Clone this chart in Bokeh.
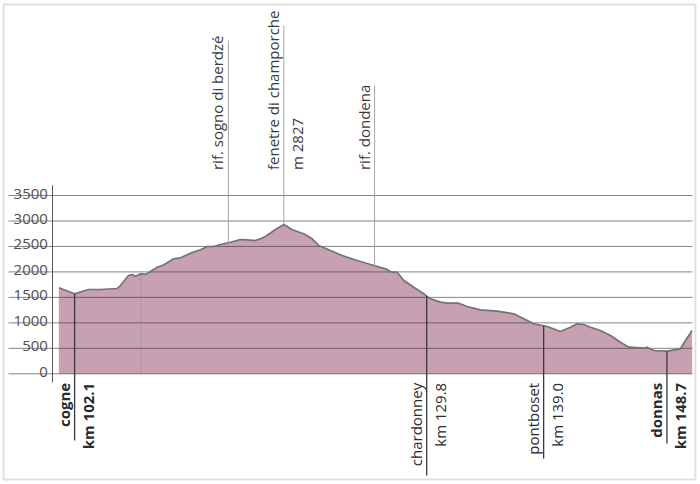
import numpy as np
from bokeh.plotting import figure
from bokeh.models import ColumnDataSource
from bokeh.core.properties import value
from bokeh.embed import file_html
from bokeh.resources import INLINE

# ---- data ----
profile_km = [100.86, 102.1, 103.19, 104.14, 105.45, 105.71, 106.34, 106.63, 106.89, 107.28,
              107.68, 108.60, 109.12, 109.90, 110.43, 111.22, 112.00, 112.53, 113.05, 113.58,
              114.36, 115.15, 115.68, 116.33, 116.72, 117.12, 117.90, 118.56, 119.22, 120.13,
              120.79, 121.31, 122.23, 123.15, 124.33, 125.38, 126.56, 127.08, 127.48, 128.00,
              128.78, 129.57, 130.10, 130.88, 131.41, 132.32, 132.98, 134.03, 135.34, 136.65,
              137.44, 138.22, 139.28, 140.32, 141.11, 141.64, 142.16, 142.68, 143.47, 144.26,
              145.04, 145.70, 146.88, 147.14, 147.66, 148.72, 149.76, 150.16, 150.68]
profile_elev = [1688, 1570, 1655, 1655, 1675, 1733, 1930, 1950, 1910, 1963,
                1950, 2093, 2140, 2257, 2277, 2368, 2434, 2499, 2499, 2538,
                2583, 2636, 2630, 2616, 2650, 2696, 2833, 2931, 2827, 2748,
                2650, 2519, 2420, 2322, 2224, 2146, 2061, 1994, 1994, 1831,
                1700, 1570, 1472, 1406, 1386, 1386, 1321, 1256, 1229, 1178,
                1080, 981, 929, 830, 915, 981, 968, 915, 850, 752,
                620, 522, 503, 522, 457, 444, 491, 654, 850]

tick_values = [0, 500, 1000, 1500, 2000, 2500, 3000, 3500]
tick_labels = ["0", "500", "1000", "1500", "2000", "2500", "3000", "3500"]

town_names = ["cogne", "chardonney", "pontboset", "donnas"]
town_km = [102.1, 129.8, 139.0, 148.7]
town_km_labels = ["km 102.1", "km 129.8", "km 139.0", "km 148.7"]
town_styles = ["bold", "normal", "normal", "bold"]

pass_names = ["rif. sogno di berdzé", "fenetre di champorche", "rif. dondena"]
pass_km = [114.2, 118.56, 125.7]
pass_sub = ["", "m 2827", ""]

faint_km = [107.3]

# ---- styling / layout constants ----
X_RANGE = (96.27, 151.34)
Y_RANGE = (-2173, 7328)
GRID_X = (96.90, 150.71)
FRAME_X = (96.51, 150.94)
FRAME_Y = (-2075, 7249)
AXIS_KM = 100.36
LABEL_KM = 100.0
PASS_LINE_TOP = [6543, 6838, 5661]
TOWN_LINE_BOTTOM = [-1308, -1995, -1663, -1369]
PASS_LABEL_Y = 4000
FONT = "Open Sans"
FILL = "#c7a1b3"

p = figure(width=700, height=484, x_range=X_RANGE, y_range=Y_RANGE,
           output_backend="svg", toolbar_location=None,
           x_axis_location=None, y_axis_location=None,
           min_border=0, min_border_left=0, min_border_right=0,
           min_border_top=0, min_border_bottom=0)
p.outline_line_color = None
p.grid.visible = False
p.background_fill_color = "white"
p.border_fill_color = "white"

# faint page frame
p.quad(left=[FRAME_X[0]], right=[FRAME_X[1]], bottom=[FRAME_Y[0]], top=[FRAME_Y[1]],
       fill_color=None, line_color="#e0e0e0", line_width=2)

# area
p.varea(x=profile_km, y1=0, y2=profile_elev, fill_color=FILL, fill_alpha=1.0)

# faint vertical line inside the area
faint_top = list(np.interp(faint_km, profile_km, profile_elev))
p.segment(x0=faint_km, y0=[0] * len(faint_km), x1=faint_km, y1=faint_top,
          line_color="#a98596", line_alpha=0.5, line_width=1)

# horizontal grid lines over the area
n = len(tick_values)
p.segment(x0=[GRID_X[0]] * n, y0=tick_values, x1=[GRID_X[1]] * n, y1=tick_values,
          line_color="#333333", line_alpha=0.6, line_width=1)

# profile outline
p.line(x=profile_km, y=profile_elev, line_color="#737373", line_width=1.7)

# vertical axis line
p.segment(x0=[AXIS_KM], y0=[-170], x1=[AXIS_KM], y1=[3700],
          line_color="#555555", line_width=1)

# tick labels
p.text(x=[LABEL_KM] * n, y=tick_values, text=tick_labels,
       text_align="right", text_baseline="alphabetic", y_offset=-2,
       text_font=value(FONT), text_font_size="15px", text_color="#505050")

# pass markers (top)
pass_base = list(np.interp(pass_km, profile_km, profile_elev))
p.segment(x0=pass_km, y0=pass_base, x1=pass_km, y1=PASS_LINE_TOP,
          line_color="#a8a8a8", line_width=1)
p.text(x=pass_km, y=[PASS_LABEL_Y] * len(pass_km), text=pass_names, angle=np.pi / 2,
       text_align="left", text_baseline="bottom", x_offset=-1,
       text_font=value(FONT), text_font_size="15px", text_color="#3a3a3a")
p.text(x=pass_km, y=[PASS_LABEL_Y] * len(pass_km), text=pass_sub, angle=np.pi / 2,
       text_align="left", text_baseline="top", x_offset=3,
       text_font=value(FONT), text_font_size="15px", text_color="#3a3a3a")

# town markers (bottom)
town_base = list(np.interp(town_km, profile_km, profile_elev))
p.segment(x0=town_km, y0=town_base, x1=town_km, y1=TOWN_LINE_BOTTOM,
          line_color="#3a3a3a", line_width=1.3)
src = ColumnDataSource(dict(x=town_km, y=[0] * len(town_km), name=town_names,
                            kml=town_km_labels, style=town_styles))
p.text(x="x", y="y", text="name", source=src, angle=np.pi / 2,
       text_align="right", text_baseline="bottom", x_offset=-1, y_offset=9,
       text_font=value(FONT), text_font_size="15px", text_font_style="style",
       text_color="#2a2a2a")
p.text(x="x", y="y", text="kml", source=src, angle=np.pi / 2,
       text_align="right", text_baseline="top", x_offset=3, y_offset=9,
       text_font=value(FONT), text_font_size="15px", text_font_style="style",
       text_color="#2a2a2a")

open("out.html", "w").write(file_html(p, INLINE))
